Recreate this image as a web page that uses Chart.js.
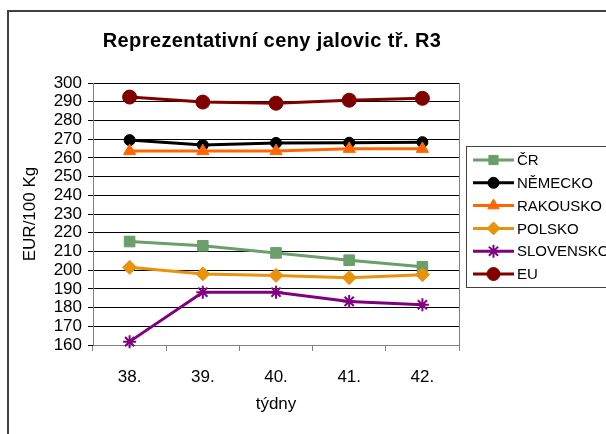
<!DOCTYPE html>
<html>
<head>
<meta charset="utf-8">
<script src="https://cdn.jsdelivr.net/npm/chart.js@4.4.0/dist/chart.umd.min.js"></script>
<style>
  html, body { margin: 0; padding: 0; background: #fff; overflow: hidden; }
  #wrap { position: relative; width: 606px; height: 434px; }
</style>
</head>
<body>
<div id="wrap"><canvas id="chart" width="606" height="434"></canvas></div>
<script>
// --- data ---
const weeks = ['38.', '39.', '40.', '41.', '42.'];
const seriesNames = ['ČR', 'NĚMECKO', 'RAKOUSKO', 'POLSKO', 'SLOVENSKO', 'EU'];
const crValues = [215.3, 213.0, 209.2, 205.3, 201.8];
const nemeckoValues = [269.5, 266.9, 268.0, 268.1, 268.4];
const rakouskoValues = [263.6, 263.6, 263.6, 264.8, 264.8];
const polskoValues = [201.5, 198.0, 197.2, 196.0, 197.6];
const slovenskoValues = [161.8, 188.2, 188.2, 183.3, 181.5];
const euValues = [292.5, 289.8, 289.2, 290.8, 291.8];
const yMin = 160, yMax = 300, yStep = 10;

const FONT = '"Liberation Sans", Arial, sans-serif';

// colours / markers per series
const styles = [
    { color: '#6B9E6B', pointStyle: 'rect', radius: 7.5 },
    { color: '#000000', pointStyle: 'circle', radius: 5.5 },
    { color: '#FF6600', pointStyle: 'triangle', radius: 7 },
    { color: '#E8920E', pointStyle: 'rectRot', radius: 7 },
    { color: '#800080', pointStyle: 'star', radius: 6.5 },
    { color: '#800000', pointStyle: 'circle', radius: 7 }
];
const allValues = [crValues, nemeckoValues, rakouskoValues, polskoValues, slovenskoValues, euValues];

const datasets = allValues.map((vals, i) => ({
    label: seriesNames[i],
    data: vals,
    borderColor: styles[i].color,
    backgroundColor: styles[i].color,
    borderWidth: 3,
    pointStyle: styles[i].pointStyle,
    pointRadius: styles[i].radius,
    pointBackgroundColor: styles[i].color,
    pointBorderColor: styles[i].color,
    pointBorderWidth: styles[i].pointStyle === 'star' ? 2 : 1,
    tension: 0,
    clip: false,
    order: allValues.length - i   // later series on top, like Excel
}));

// frame, plot border, title and legend
const decorPlugin = {
    id: 'decor',
    beforeDraw(chart) {
        const ctx = chart.ctx;
        ctx.save();
        ctx.fillStyle = '#fff';
        ctx.fillRect(0, 0, chart.width, chart.height);
        ctx.strokeStyle = '#404040';
        ctx.lineWidth = 2;
        ctx.beginPath();
        ctx.moveTo(8, chart.height + 2);
        ctx.lineTo(8, 11);
        ctx.lineTo(chart.width + 2, 11);
        ctx.stroke();
        ctx.restore();
    },
    beforeDatasetsDraw(chart) {
        // right border of the plot area
        const { ctx, chartArea } = chart;
        ctx.save();
        ctx.strokeStyle = '#808080';
        ctx.lineWidth = 1;
        ctx.beginPath();
        ctx.moveTo(Math.round(chartArea.right) + 0.5, chartArea.top);
        ctx.lineTo(Math.round(chartArea.right) + 0.5, chartArea.bottom);
        ctx.stroke();
        ctx.restore();
    },
    afterDraw(chart) {
        const ctx = chart.ctx;
        ctx.save();
        // title
        ctx.fillStyle = '#000';
        ctx.font = 'bold 20px ' + FONT;
        ctx.letterSpacing = '0.4px';
        ctx.textAlign = 'center';
        ctx.textBaseline = 'alphabetic';
        ctx.fillText('Reprezentativní ceny jalovic tř. R3', 272, 47);
        ctx.letterSpacing = '0px';

        // legend box
        const bx = 466, by = 146, bh = 141;
        ctx.strokeStyle = '#404040';
        ctx.lineWidth = 1;
        ctx.strokeRect(bx + 0.5, by + 0.5, 200, bh);

        ctx.font = '15px ' + FONT;
        ctx.textAlign = 'left';
        ctx.textBaseline = 'middle';
        chart.data.datasets.forEach((ds, i) => {
            const y = by + 14 + i * 22.8;
            ctx.strokeStyle = ds.borderColor;
            ctx.lineWidth = 3;
            ctx.beginPath();
            ctx.moveTo(473, y);
            ctx.lineTo(514, y);
            ctx.stroke();
            ctx.fillStyle = ds.pointBackgroundColor;
            ctx.strokeStyle = ds.pointBorderColor;
            ctx.lineWidth = ds.pointBorderWidth;
            Chart.helpers.drawPoint(ctx, {
                pointStyle: ds.pointStyle,
                radius: Math.min(ds.pointRadius, 6.5),
                rotation: 0,
                borderWidth: ds.pointBorderWidth
            }, 493.5, y);
            ctx.fillStyle = '#000';
            ctx.fillText(ds.label, 517, y + 1);
        });
        ctx.restore();
    }
};

new Chart(document.getElementById('chart'), {
    type: 'line',
    data: { labels: weeks, datasets: datasets },
    options: {
        responsive: false,
        animation: false,
        events: [],
        layout: { padding: { left: 0, top: 83, right: 147, bottom: 19 } },
        plugins: {
            legend: { display: false },
            title: { display: false },
            tooltip: { enabled: false }
        },
        scales: {
            x: {
                offset: true,
                grid: { display: true, offset: true, drawOnChartArea: false, color: '#808080', tickLength: 6 },
                border: { color: '#808080', width: 1 },
                ticks: { color: '#000', font: { family: FONT, size: 17 }, padding: 16, maxRotation: 0 },
                title: { display: true, text: 'týdny', color: '#000', font: { family: FONT, size: 17 }, padding: { top: 0, bottom: 0 } },
                afterFit(scale) { scale.height = 70; }
            },
            y: {
                min: yMin,
                max: yMax,
                grid: { color: '#000', tickLength: 5, drawTicks: true },
                border: { color: '#808080', width: 1 },
                ticks: { stepSize: yStep, autoSkip: false, color: '#000', font: { family: FONT, size: 17 }, padding: 6 },
                title: { display: true, text: 'EUR/100 Kg', color: '#000', font: { family: FONT, size: 17 }, padding: { top: 20, bottom: 0 } },
                afterFit(scale) { scale.width = 93; }
            }
        }
    },
    plugins: [decorPlugin]
});
</script>
</body>
</html>
